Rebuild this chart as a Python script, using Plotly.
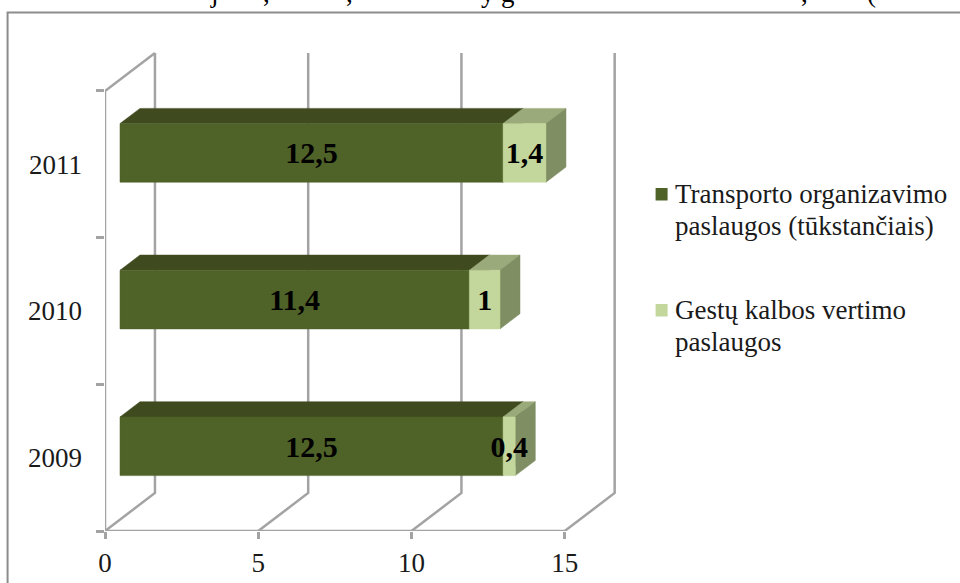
import plotly.graph_objects as go

W, H = 960, 583
# ---- data ----
years = ["2009", "2010", "2011"]
transport = [12.5, 11.4, 12.5]
gestu = [0.4, 1.0, 1.4]
series_names = [["Transporto organizavimo", "paslaugos (tūkstančiais)"],
                ["Gestų kalbos vertimo", "paslaugos"]]
x_ticks = [0, 5, 10, 15]
clipped_title_glyphs = ["j", ",", ",", "y", "g", ",", "("]

# ---- layout geometry ----
X0PX = 105
PX_X = 30.67          # px per value unit
PX_Y = 146.67         # px per category band
Y0PX = 531
TOP_M = 50
XMAX = 17.0
YMAX = (Y0PX - TOP_M) / PX_Y
PW, PH = XMAX * PX_X, Y0PX - TOP_M
DEPTH_X = 50 / PX_X   # full depth of the 3-D box, in value units
DEPTH_Y = 38 / PX_Y   # ... in category bands
BAR_D0, BAR_D1 = 0.3, 0.7
BAR_LO, BAR_HI = 0.3, 0.7
LABEL_NUDGE = 3 / PX_Y
GREY = "#A3A3A3"
SERIF = "Liberation Serif"
TXT = "#1a1a1a"
C_MAIN = ("#4F6228", "#3F4A1F", "#46551F")
C_LIGHT = ("#C3D69B", "#9AAA7A", "#7F8E63")


def proj(v, c, d):
    return v + d * DEPTH_X, c + d * DEPTH_Y


def path(points):
    xs, ys = zip(*[proj(*p) for p in points])
    return list(xs), list(ys)


def pxx(p):
    return (p - X0PX) / PW


def pxy(p):
    return (Y0PX - p) / PH


fig = go.Figure()

# walls / floor gridlines
gx, gy = [], []
for t in x_ticks:
    for p in ([(t, 0, 0), (t, 0, 1), (t, len(years), 1)]):
        x, y = proj(*p)
        gx.append(x); gy.append(y)
    gx.append(None); gy.append(None)
for p in [(0, len(years), 1), (0, len(years), 0), (0, 0, 0), (x_ticks[-1], 0, 0)]:
    x, y = proj(*p)
    gx.append(x); gy.append(y)
fig.add_trace(go.Scatter(x=gx, y=gy, mode="lines", line=dict(color=GREY, width=2.5),
                         showlegend=False, hoverinfo="skip", cliponaxis=False))


def box(start, val, c, colors, name):
    end = start + val
    lo, hi = c + BAR_LO, c + BAR_HI
    faces = [
        ([(start, hi, BAR_D0), (end, hi, BAR_D0), (end, hi, BAR_D1), (start, hi, BAR_D1)], colors[1]),
        ([(end, lo, BAR_D0), (end, hi, BAR_D0), (end, hi, BAR_D1), (end, lo, BAR_D1)], colors[2]),
        ([(start, lo, BAR_D0), (end, lo, BAR_D0), (end, hi, BAR_D0), (start, hi, BAR_D0)], colors[0]),
    ]
    for pts, col in faces:
        xs, ys = path(pts)
        fig.add_trace(go.Scatter(x=xs + xs[:1], y=ys + ys[:1], mode="lines", fill="toself",
                                 fillcolor=col, line=dict(color=col, width=0.5),
                                 name=name, showlegend=False, hoverinfo="skip"))


for i, y in enumerate(years):
    box(0, transport[i], i, C_MAIN, " ".join(series_names[0]))
    box(transport[i], gestu[i], i, C_LIGHT, " ".join(series_names[1]))

# data labels
lx, ly, lt = [], [], []
for i in range(len(years)):
    for start, v in ((0, transport[i]), (transport[i], gestu[i])):
        x, yy = proj(start + v / 2, i + (BAR_LO + BAR_HI) / 2, BAR_D0)
        lx.append(x); ly.append(yy - LABEL_NUDGE); lt.append(f"{v:g}".replace(".", ","))
fig.add_trace(go.Scatter(x=lx, y=ly, text=lt, mode="text", textposition="middle center",
                         textfont=dict(family=SERIF, size=30, color="#000000"),
                         texttemplate="<b>%{text}</b>", showlegend=False, hoverinfo="skip"))

shapes = [
    dict(type="rect", xref="paper", yref="paper", x0=pxx(7.5), x1=pxx(975), y0=pxy(12.5), y1=pxy(600),
         line=dict(color="#8C8C8C", width=2), fillcolor="rgba(0,0,0,0)", layer="below"),
]
annotations = []
for (top, col, lines) in ((188, C_MAIN[0], series_names[0]), (304, C_LIGHT[0], series_names[1])):
    shapes.append(dict(type="rect", xref="paper", yref="paper",
                       x0=pxx(656), x1=pxx(668), y0=pxy(top), y1=pxy(top + 12.5),
                       fillcolor=col, line=dict(width=0)))
    for k, line in enumerate(lines):
        annotations.append(dict(xref="paper", yref="paper", x=pxx(673), y=pxy(top + 6 + k * 31.5),
                                xanchor="left", yanchor="middle", align="left", showarrow=False,
                                text=line, font=dict(family=SERIF, size=27, color=TXT)))
for g, gxp in zip(clipped_title_glyphs, [215, 267, 350, 488, 508, 805, 872]):
    annotations.append(dict(xref="paper", yref="paper", x=pxx(gxp), y=pxy(10),
                            xanchor="center", yanchor="bottom", showarrow=False,
                            text=g, font=dict(family=SERIF, size=27, color="#000000")))

fig.update_layout(
    width=W, height=H, autosize=False,
    margin=dict(l=X0PX, t=TOP_M, b=H - Y0PX, r=W - X0PX - PW, pad=0),
    paper_bgcolor="white", plot_bgcolor="white", showlegend=False,
    shapes=shapes, annotations=annotations,
    xaxis=dict(range=[0, XMAX], tickvals=x_ticks, ticks="outside", ticklen=7, tickwidth=2.5,
               tickcolor=GREY, showgrid=False, zeroline=False, showline=False,
               tickfont=dict(family=SERIF, size=27, color=TXT), fixedrange=True,
               ticklabelstandoff=1, automargin=False),
    yaxis=dict(range=[0, YMAX], tickvals=[i + 0.5 for i in range(len(years))], ticktext=years,
               ticks="", ticklen=0, showgrid=False, zeroline=False, showline=False,
               ticklabelstandoff=22, automargin=False,
               minor=dict(tickvals=list(range(len(years) + 1)), ticks="outside", ticklen=8,
                          tickwidth=2.5, tickcolor=GREY, showgrid=False),
               tickfont=dict(family=SERIF, size=27, color=TXT), fixedrange=True),
)

fig.write_html("out.html", post_script="document.body.style.margin='0';document.body.style.overflow='hidden';",
               config={"displayModeBar": False})
